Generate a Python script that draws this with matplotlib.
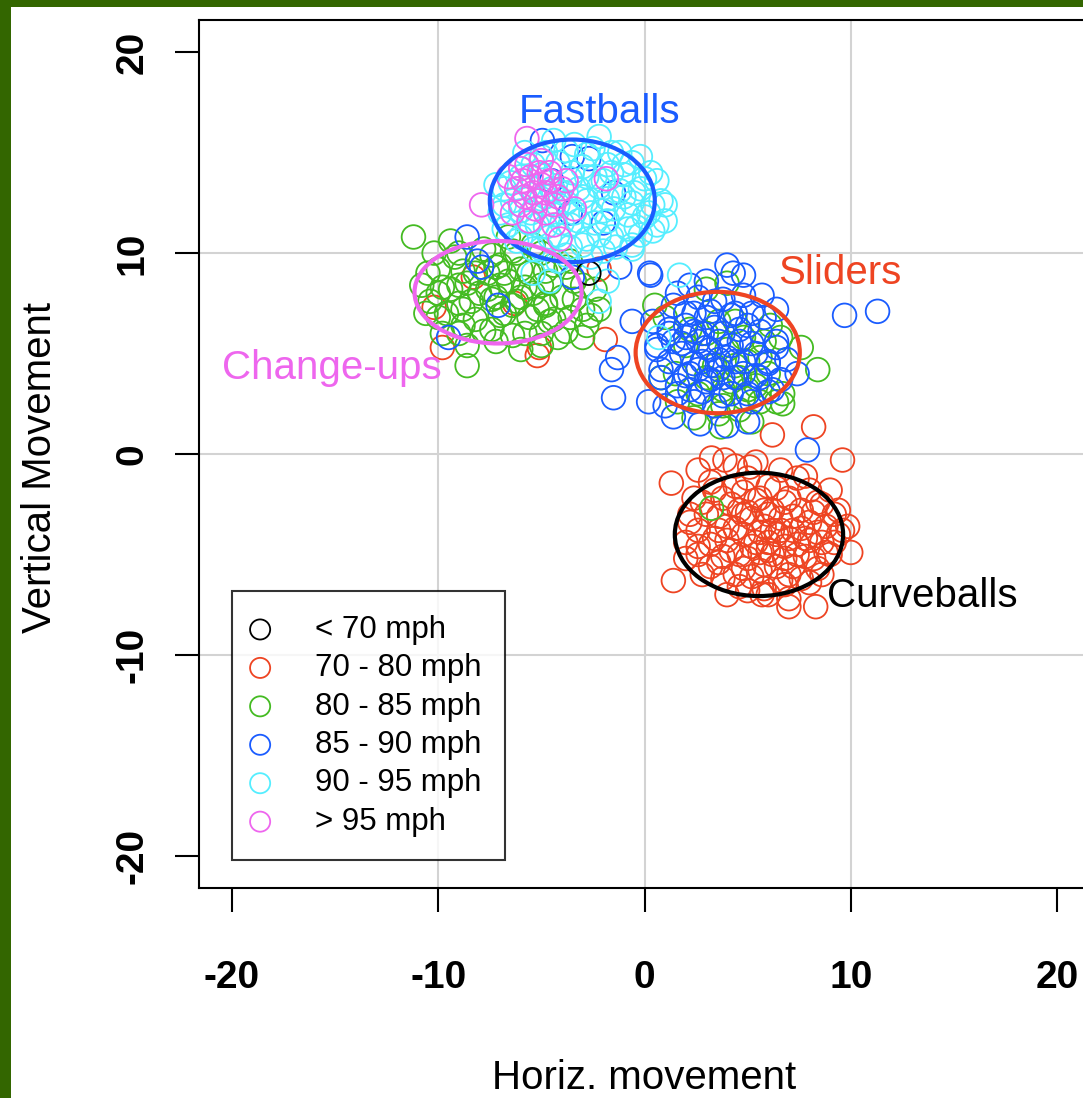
import matplotlib.pyplot as plt
from matplotlib.patches import Ellipse, Rectangle

plt.rcParams['font.family'] = ['Liberation Sans', 'DejaVu Sans']
plt.rcParams['axes.unicode_minus'] = False

# speed groups (horizontal, vertical movement)
x_lt70 = [-2.7]
y_lt70 = [9.0]

x_70_80 = [3.0, 3.4, 3.6, 3.8, 4.0, 4.2, 4.4, 4.4, 4.6, 4.8, 5.0, 5.0, 5.2, 5.4, 5.6, 5.6,
           5.8, 6.0, 6.0, 6.2, 6.4, 6.4, 6.6, 6.8, 7.0, 7.0, 7.2, 7.4, 7.6, 7.8, 8.0, 8.2,
           8.4, 8.6, 8.8, 9.0, 9.4, 9.4, 2.6, 2.8, 3.2, 2.4, 4.0, 5.0, 6.0, 7.0, 8.0, 8.6,
           9.0, 7.4, 6.6, 5.4, 4.4, 3.25, 3.9, 5.1, 7.8, 1.3, 1.4, 8.2, 6.2, 9.6, 8.3, 9.85,
           10.0, 5.7, 7.0, 2.2, 2.0, 4.8, 6.2, 5.2, 4.6, 7.0, 6.8, 5.8, 3.6, 2.6,
           3.4, 4.8, 6.4, 8.0, 2.8, 4.2, 5.4, 6.8, 8.6, 2.2, 3.6, 5.0, 6.0, 7.2, 8.2, 9.2,
           2.6, 4.4, 5.6, 6.6, 7.6, 8.4, 9.6, 2.0, 3.2, 4.0, 6.0, 7.4, 8.0, 9.2, 2.6, 3.8,
           5.6, 6.2, 7.8, 8.8, 3.2, 4.8, 5.8, 7.2, 8.4, 3.8, 5.2, 6.6, 7.6, 4.6, 5.8, 6.8,
           -10.2, -6.3, -5.2, -1.9, -9.8, -8.3, -2.2, -5.1]
y_70_80 = [-3.0, -4.2, -5.4, -2.2, -3.6, -4.8, -6.0, -1.6, -2.8, -4.0, -5.2, -1.2, -3.2, -4.4, -5.8, -2.2,
           -3.6, -4.8, -1.6, -2.8, -4.0, -5.6, -3.2, -4.6, -2.2, -6.0, -3.8, -5.0, -2.8, -4.2, -3.4, -5.2,
           -2.4, -4.4, -3.6, -5.0, -2.8, -4.0, -4.6, -6.0, -1.4, -2.2, -7.0, -6.8, -7.0, -7.2, -6.4, -6.0,
           -1.8, -1.2, -0.8, -0.4, -0.6, -0.2, -0.3, -0.65, -1.1, -1.45, -6.3, 1.35, 0.95, -0.3, -7.6, -3.6,
           -4.9, -7.0, -7.6, -3.4, -5.2, -3.0, -3.8, -4.6, -5.0, -4.2, -5.2, -2.8, -3.8, -0.8,
           -1.8, -1.9, -1.7, -1.8, -2.4, -2.5, -2.3, -2.4, -2.5, -3.0, -3.1, -2.9, -3.0, -3.1, -2.9, -3.0,
           -3.8, -3.7, -3.9, -3.8, -3.7, -3.9, -3.8, -4.4, -4.5, -4.3, -4.4, -4.5, -4.3, -4.4, -5.0, -5.1,
           -4.9, -5.0, -5.1, -4.9, -5.6, -5.7, -5.5, -5.6, -5.7, -6.2, -6.1, -6.3, -6.2, -6.6, -6.7, -6.5,
           7.3, 7.5, 4.9, 5.7, 5.3, 8.8, 9.2, 5.3]

x_80_85 = [-10.5, -10.0, -9.6, -9.2, -9.0, -8.8, -8.4, -8.2, -7.8, -7.6, -7.4, -7.0, -6.8, -6.6,
           -6.2, -6.0, -5.8, -5.6, -5.2, -5.0, -4.6, -4.4, -4.0, -3.6, -3.4, -3.0, -2.8, -9.8,
           -10.6, -10.2, -8.6, -7.2, -6.0, -5.0, -4.2, -3.0, -8.6, -11.2, -9.4, -6.6, -5.4, -8.0,
           -7.2, -6.4, -6.8, -7.6, -5.4, -8.8, -9.4, -4.8, -3.6, -2.4, -2.2,
           -9.0, -7.8, -6.4, -5.0, -3.8, -10.0, -8.2, -7.0, -5.6, -4.4, -2.6, -10.4, -9.0, -7.4,
           -6.2, -4.8, -3.4, -10.8, -9.8, -8.6, -7.0, -5.8, -4.6, -3.0, -10.0, -8.8, -7.2, -6.0,
           -4.8, -3.8, -9.0, -7.4, -6.4, -5.0,
           1.0, 0.5, 1.5, 0.8, 2.0, 2.6, 3.0, 3.4, 3.6, 3.7, 4.0, 4.2, 4.4, 4.8, 5.0, 5.4, 5.8,
           6.1, 6.4, 6.7, 6.7, 7.6, 8.4, 4.0, 3.0, 2.4, 5.2, 4.6, 3.8, 1.6, 3.25,
           3.8, 4.6, 5.6, 4.4, 5.0, 6.0, 6.6, 2.2, 3.6, 4.8, 5.6, 3.0]
y_80_85 = [9.0, 8.0, 7.0, 9.8, 8.4, 6.4, 7.6, 9.0, 10.2, 8.2, 6.2, 9.4, 7.0, 8.6,
           10.0, 7.8, 6.0, 9.0, 7.2, 8.4, 6.6, 9.4, 7.8, 6.8, 8.6, 7.2, 6.4, 6.0,
           7.0, 10.0, 5.4, 5.6, 5.2, 5.4, 5.8, 5.8, 4.4, 10.8, 10.6, 10.8, 10.4, 8.0,
           7.8, 7.4, 9.0, 9.0, 8.0, 7.2, 8.2, 7.4, 9.6, 8.2, 7.2,
           6.0, 6.1, 5.9, 6.0, 6.1, 6.8, 6.7, 6.9, 6.8, 6.7, 6.9, 7.6, 7.5, 7.7,
           7.6, 7.5, 7.7, 8.4, 8.3, 8.5, 8.4, 8.3, 8.5, 8.4, 9.2, 9.1, 9.3, 9.2,
           9.1, 9.3, 10.0, 9.9, 10.1, 10.0,
           6.8, 7.4, 4.0, 3.8, 5.4, 3.0, 6.0, 4.4, 2.0, 1.35, 5.2, 3.6, 6.6, 2.8, 4.6, 3.4, 5.6,
           6.4, 2.6, 3.0, 2.5, 5.3, 4.2, 8.5, 8.2, 1.8, 1.6, 3.8, 3.2, 2.6, -2.7,
           2.4, 2.2, 2.6, 4.4, 3.2, 4.0, 5.8, 6.2, 6.6, 5.8, 4.8, 3.8]

x_85_90 = [0.4, 0.6, 0.8, 1.2, 1.4, 1.6, 1.8, 2.0, 2.2, 2.4, 2.4, 2.6, 2.8, 3.0, 3.0, 3.2,
           3.4, 3.4, 3.6, 3.8, 4.0, 4.2, 4.4, 4.6, 4.8, 5.0, 5.2, 5.4, 5.6, 5.8, 6.0, 6.2,
           6.4, 6.9, 7.4, 5.7, 4.8, 4.0, 4.3, 0.3, -0.6, -1.3, -1.6, -1.5, 1.4, 2.7, 0.2, 1.0,
           4.0, 5.0, 9.7, 11.3, 7.9, 2.2, 1.6, 3.0, 2.0, 3.6, 2.6, 3.2, 2.8, 3.8, 4.4, 1.4,
           2.2, 6.4, -1.2, 0.25, -3.5,
           1.6, 2.8, 3.8, 5.0, 6.0, 0.8, 2.0, 3.2, 4.4, 5.4, 6.6, 1.2, 2.4, 3.6, 4.8, 6.0,
           0.6, 1.8, 3.0, 4.2, 5.2, 6.4, 1.2, 2.4, 3.4, 4.6, 5.6, 2.0, 3.2, 4.2, 5.2, 2.6,
           3.8, 4.8,
           -7.9, -8.1, -7.1, -9.5, -8.6,
           -4.95, -3.5, -2.7, -3.6, -2.0, -4.5, -1.5]
y_85_90 = [6.6, 5.2, 4.2, 6.0, 7.4, 3.4, 5.0, 6.4, 4.0, 7.0, 2.6, 5.6, 4.6, 6.8, 3.6, 5.2,
           7.6, 2.4, 4.2, 6.0, 4.8, 3.0, 7.0, 5.6, 4.0, 6.4, 2.6, 5.0, 3.8, 6.8, 4.6, 3.2,
           5.6, 4.7, 4.0, 7.9, 8.9, 9.4, 9.0, 8.9, 6.6, 4.8, 4.2, 2.8, 1.85, 1.5, 2.6, 2.4,
           1.4, 1.6, 6.9, 7.1, 0.2, 8.4, 8.0, 8.6, 5.8, 5.6, 4.2, 4.4, 6.0, 3.8, 4.6, 5.6,
           3.2, 7.2, 9.3, 9.0, 8.8,
           3.0, 3.1, 2.9, 3.0, 3.1, 3.8, 3.9, 3.7, 3.8, 3.9, 3.7, 4.6, 4.5, 4.7, 4.6, 4.5,
           5.4, 5.5, 5.3, 5.4, 5.5, 5.3, 6.2, 6.1, 6.3, 6.2, 6.1, 7.0, 7.1, 6.9, 7.0, 7.8,
           7.7, 7.9,
           9.3, 9.6, 7.4, 5.8, 10.8,
           15.6, 14.8, 14.7, 12.0, 11.5, 13.6, 13.0]

x_90_95 = [-6.5, -6.0, -5.5, -5.0, -4.5, -4.0, -3.5, -3.0, -2.5, -2.0, -1.5, -1.0, -0.5, 0.0,
           -6.8, -6.2, -5.4, -4.6, -3.8, -3.0, -2.2, -1.4, -0.8, 0.4, 0.6, 0.4, 1.0, 1.0, 0.3,
           -2.2, -3.4, -4.4, -1.2, -0.2, -5.8, -6.8, -7.2, -5.2, -4.2, -3.2, -2.6, -1.8, -1.0,
           -2.8, -3.8, -4.8, -1.6, -0.6, -2.6, -4.2, -5.4, -4.6, -2.2, -1.8, 1.7, 0.7,
           -5.0, -3.6, -2.0, -0.6, -6.0, -4.2, -2.8, -1.6, -0.2, -6.6, -5.6, -4.8, -3.6, -2.4,
           -0.4, 0.6, -7.0, -6.0, -4.4, -3.4, -2.0, -0.8, 0.2, -6.4, -5.0, -3.8, -2.8, -1.8,
           -0.6, 0.8, -6.8, -5.6, -4.4, -3.2, -2.2, -1.2, -0.2, -6.0, -5.0, -3.6, -2.4, -1.0,
           0.0, -5.4, -4.2, -3.0, -1.8, -0.6, -4.8, -3.8, -2.8, -1.6]
y_90_95 = [13.5, 14.2, 12.0, 14.8, 13.2, 11.5, 14.0, 12.8, 15.2, 13.6, 12.2, 14.4, 13.0, 11.8,
           11.2, 10.6, 10.2, 10.8, 9.9, 10.4, 10.9, 10.3, 11.2, 12.4, 13.6, 11.1, 12.4, 11.6, 14.0,
           15.8, 15.4, 15.6, 15.0, 14.8, 15.0, 12.4, 13.4, 11.4, 12.4, 11.6, 12.0, 11.6, 12.8,
           13.8, 13.0, 12.8, 14.0, 10.4, 9.8, 9.6, 9.0, 8.6, 7.6, 8.6, 8.9, 5.8,
           10.2, 10.3, 10.1, 10.2, 10.8, 10.9, 10.7, 10.8, 10.9, 11.4, 11.5, 11.3, 11.4, 11.5,
           11.3, 11.4, 12.0, 12.1, 11.9, 12.0, 12.1, 11.9, 12.0, 12.6, 12.7, 12.5, 12.6, 12.7,
           12.5, 12.6, 13.2, 13.3, 13.1, 13.2, 13.3, 13.1, 13.2, 13.8, 13.9, 13.7, 13.8, 13.9,
           13.7, 14.4, 14.5, 14.3, 14.4, 14.5, 15.0, 15.1, 14.9, 15.0]

x_gt95 = [-5.7, -7.9, -6.0, -5.5, -5.0, -4.6, -5.2, -5.8, -6.2, -4.8, -5.6, -4.2, -3.8,
          -6.4, -5.0, -4.4, -6.6, -1.85, -3.4, -4.1,
          -5.4, -4.8, -5.9, -5.1, -4.4, -6.0, -5.3, -4.6, -5.7, -4.0]
y_gt95 = [15.7, 12.4, 14.2, 13.8, 13.4, 14.0, 12.6, 12.8, 13.2, 12.0, 11.6, 12.8, 13.6,
          12.0, 14.6, 11.4, 13.8, 13.7, 12.2, 10.7,
          13.0, 13.0, 13.6, 14.0, 12.4, 12.4, 12.2, 13.6, 14.4, 13.2]

labels = ["< 70 mph", "70 - 80 mph", "80 - 85 mph", "85 - 90 mph", "90 - 95 mph", "> 95 mph"]
colors = ["black", "#EE4422", "#44BB22", "#1A5CFF", "#55EEFF", "#EE66EE"]

# pitch type ellipses: name, centre x, centre y, half width, half height
pitch_names = ["Fastballs", "Change-ups", "Sliders", "Curveballs"]
ell_cx = [-3.5, -7.1, 3.55, 5.55]
ell_cy = [12.6, 8.05, 5.05, -4.0]
ell_a = [4.0, 4.05, 3.98, 4.08]
ell_b = [3.05, 2.55, 3.02, 3.07]
ell_colors = ["#1A5CFF", "#EE66EE", "#EE4422", "black"]
name_x = [-2.2, -15.15, 9.47, 13.45]
name_y = [17.0, 4.3, 9.03, -7.08]

fig = plt.figure(figsize=(10.83, 10.98), dpi=100, facecolor="#336600")
fig.patches.append(Rectangle((11 / 1083, 0), 1, 1 - 7 / 1098, transform=fig.transFigure,
                             facecolor="white", edgecolor="none", zorder=-10))
ax = fig.add_axes([199 / 1083, 210 / 1098, 891 / 1083, 868 / 1098])

for v in [-10, 0, 10]:
    ax.axvline(v, color="#D3D3D3", lw=1.5, zorder=0)
    ax.axhline(v, color="#D3D3D3", lw=1.5, zorder=0)

groups = [(x_70_80, y_70_80, 1), (x_80_85, y_80_85, 2), (x_85_90, y_85_90, 3),
          (x_90_95, y_90_95, 4), (x_gt95, y_gt95, 5), (x_lt70, y_lt70, 0)]
handles = {}
for xs, ys, i in groups:
    handles[i] = ax.scatter(xs, ys, s=290, facecolors="none", edgecolors=colors[i],
                            linewidths=1.3, label=labels[i], zorder=2)

for i in range(len(pitch_names)):
    ax.add_patch(Ellipse((ell_cx[i], ell_cy[i]), 2 * ell_a[i], 2 * ell_b[i], fill=False,
                         edgecolor=ell_colors[i], lw=3, zorder=3))
    ax.text(name_x[i], name_y[i], pitch_names[i], color=ell_colors[i], fontsize=29,
            ha="center", va="center", zorder=4)

ax.set_xlim(-21.6, 21.6)
ax.set_ylim(-21.6, 21.6)
ax.set_xticks([-20, -10, 0, 10, 20])
ax.set_yticks([-20, -10, 0, 10, 20])
for s in ax.spines.values():
    s.set_linewidth(1.5)
ax.tick_params(length=17, width=1.5, labelsize=28)
ax.tick_params(axis="x", pad=35)
ax.tick_params(axis="y", pad=18)
for t in ax.get_xticklabels():
    t.set_fontweight("bold")
for t in ax.get_yticklabels():
    t.set_fontweight("bold")
    t.set_rotation(90)
    t.set_va("center")

ax.set_xlabel("Horiz. movement", fontsize=29)
ax.set_ylabel("Vertical Movement", fontsize=29)
ax.xaxis.set_label_coords(0.5, -0.219)
ax.yaxis.set_label_coords(-0.179, 0.485)
ax.xaxis.label.set_va("center")
ax.yaxis.label.set_va("center")

leg = ax.legend([handles[i] for i in range(6)], labels, loc="upper left",
                bbox_to_anchor=(-20, -6.83), bbox_transform=ax.transData, borderaxespad=0,
                fontsize=22.5, frameon=True, fancybox=False, edgecolor="black",
                markerscale=0.85, labelspacing=0.27, handletextpad=1.6, borderpad=0.75,
                handlelength=0.3, scatterpoints=1)
leg.get_frame().set_linewidth(1.5)

plt.savefig("out.png", dpi=100, facecolor=fig.get_facecolor())
